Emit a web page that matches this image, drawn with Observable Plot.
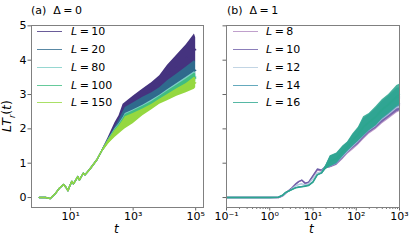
<!DOCTYPE html>
<html>
<head>
<meta charset="utf-8">
<script src="https://cdn.jsdelivr.net/npm/d3@7"></script>
<script src="https://cdn.jsdelivr.net/npm/@observablehq/plot@0.6"></script>
<style>
  body { margin: 0; background: #fff; }
  #root { position: relative; width: 415px; height: 242px; font-family: "DejaVu Sans", sans-serif; color: #000; overflow: hidden; }
  .abs { position: absolute; white-space: nowrap; }
  .sw { position: absolute; width: 25px; height: 0; border-top: 1.6px solid; opacity: 0.8; }
  .eq { margin: 0 2.5px; }
</style>
</head>
<body>
<div id="root"></div>
<script>
// ---------- Panel (a): Δ = 0 ----------
const labelsA = ["L = 10", "L = 20", "L = 80", "L = 100", "L = 150"];
const colorsA = ["#45337f", "#2f6a8d", "#7ccdc6", "#40bd82", "#95d840"];
const xTicksA = [10, 1000, 100000];
const yTicks = [0, 1, 2, 3, 4, 5];

// early-time (shared) curve, log10(t) and value
const earlyA_logT = [0, 0.2, 0.35, 0.5, 0.65, 0.775, 0.85, 0.915, 0.98, 1.04, 1.09, 1.16, 1.23, 1.28, 1.35, 1.41, 1.46, 1.62, 1.84, 2.0];
const earlyA_val  = [0, 0, -0.03, 0.1, 0.28, 0.38, 0.3, 0.2, 0.35, 0.47, 0.4, 0.5, 0.61, 0.51, 0.62, 0.71, 0.66, 0.83, 1.1, 1.37];
// late-time noisy band (lower / upper envelopes)
const bandA_logT = [2.2, 2.42, 2.55, 2.68, 2.75, 3.0, 3.31, 3.6, 3.85, 4.1, 4.4, 4.7, 4.96, 5.0];
const A10_lo  = [1.62, 1.9, 2.05, 2.3, 2.4, 2.55, 2.75, 2.95, 3.1, 3.3, 3.45, 3.7, 3.9, 3.95];
const A10_hi  = [1.74, 2.18, 2.38, 2.72, 2.77, 2.95, 3.16, 3.35, 3.55, 3.85, 4.15, 4.45, 4.76, 4.65];
const A20_lo  = [1.6, 1.85, 2.0, 2.15, 2.2, 2.38, 2.55, 2.72, 2.85, 3.0, 3.15, 3.3, 3.45, 3.45];
const A20_hi  = [1.7, 2.05, 2.25, 2.5, 2.62, 2.75, 2.92, 3.05, 3.2, 3.4, 3.6, 3.8, 3.98, 3.95];
const A80_lo  = [1.58, 1.84, 1.98, 2.14, 2.2, 2.33, 2.48, 2.64, 2.78, 2.92, 3.08, 3.24, 3.4, 3.4];
const A80_hi  = [1.69, 2.0, 2.15, 2.33, 2.45, 2.55, 2.69, 2.84, 2.98, 3.14, 3.32, 3.5, 3.66, 3.64];
const A100_lo = [1.57, 1.82, 1.96, 2.1, 2.18, 2.3, 2.45, 2.6, 2.74, 2.88, 3.05, 3.2, 3.36, 3.36];
const A100_hi = [1.68, 1.98, 2.12, 2.3, 2.42, 2.52, 2.66, 2.8, 2.95, 3.1, 3.28, 3.45, 3.62, 3.6];
const A150_lo = [1.55, 1.75, 1.85, 1.95, 2.0, 2.15, 2.38, 2.56, 2.72, 2.82, 2.95, 3.05, 3.15, 3.2];
const A150_hi = [1.66, 1.95, 2.08, 2.25, 2.35, 2.45, 2.58, 2.72, 2.86, 3.0, 3.17, 3.32, 3.5, 3.48];

// ---------- Panel (b): Δ = 1 ----------
const labelsB = ["L = 8", "L = 10", "L = 12", "L = 14", "L = 16"];
const colorsB = ["#b088bf", "#6e5ea9", "#b3cadd", "#3f95ad", "#2ca68e"];
const xTicksB = [0.1, 1, 10, 100, 1000];

const earlyB_logT = [-1, 0, 0.2, 0.3, 0.36, 0.5, 0.6, 0.67, 0.74, 0.82, 0.9, 1.0, 1.1, 1.2];
const B8_early  = [0, 0, 0, 0.05, 0.12, 0.27, 0.4, 0.47, 0.5, 0.4, 0.44, 0.62, 0.8, 0.78];
const B10_early = [0, 0, 0, 0.05, 0.12, 0.26, 0.39, 0.46, 0.51, 0.42, 0.45, 0.64, 0.83, 0.8];
const B12_early = [0, 0, 0.01, 0.06, 0.12, 0.24, 0.34, 0.38, 0.4, 0.37, 0.4, 0.55, 0.72, 0.75];
const B14_early = [0, 0, 0.01, 0.07, 0.14, 0.23, 0.29, 0.31, 0.32, 0.34, 0.36, 0.46, 0.66, 0.72];
const B16_early = [0, 0, 0.01, 0.07, 0.14, 0.22, 0.28, 0.3, 0.31, 0.33, 0.35, 0.45, 0.67, 0.72];
const bandB_logT = [1.3, 1.4, 1.55, 1.69, 1.8, 1.92, 2.05, 2.17, 2.3, 2.46, 2.6, 2.75, 2.94, 3.0];
const B8_lo  = [0.84, 0.86, 0.93, 1.1, 1.25, 1.38, 1.52, 1.68, 1.84, 1.98, 2.14, 2.28, 2.46, 2.5];
const B8_hi  = [0.9, 1.1, 1.2, 1.38, 1.5, 1.7, 1.9, 2.12, 2.28, 2.45, 2.6, 2.75, 2.9, 2.9];
const B10_lo = [0.85, 0.87, 0.95, 1.12, 1.28, 1.42, 1.55, 1.72, 1.88, 2.02, 2.18, 2.32, 2.5, 2.53];
const B10_hi = [0.92, 1.15, 1.25, 1.42, 1.55, 1.75, 1.95, 2.2, 2.35, 2.5, 2.65, 2.8, 2.95, 2.95];
const B12_lo = [0.84, 0.88, 0.97, 1.15, 1.3, 1.45, 1.6, 1.76, 1.92, 2.06, 2.24, 2.38, 2.58, 2.6];
const B12_hi = [0.93, 1.18, 1.27, 1.45, 1.58, 1.8, 2.0, 2.28, 2.4, 2.58, 2.78, 2.92, 3.12, 3.15];
const B14_lo = [0.83, 0.89, 0.98, 1.18, 1.33, 1.48, 1.63, 1.78, 1.94, 2.08, 2.27, 2.42, 2.62, 2.66];
const B14_hi = [0.94, 1.2, 1.28, 1.48, 1.6, 1.82, 2.02, 2.3, 2.42, 2.6, 2.8, 2.96, 3.18, 3.2];
const B16_lo = [0.82, 0.9, 1.0, 1.2, 1.35, 1.5, 1.65, 1.8, 1.95, 2.1, 2.3, 2.45, 2.65, 2.7];
const B16_hi = [0.95, 1.22, 1.3, 1.5, 1.62, 1.85, 2.05, 2.35, 2.45, 2.65, 2.85, 3.0, 3.26, 3.3];

// ---------- build rows ----------
function rows(eT, eV, bT, lo, hi) {
  const r = eT.map((lt, i) => ({t: 10 ** lt, lo: eV[i], hi: eV[i], mid: eV[i]}));
  bT.forEach((lt, i) => r.push({t: 10 ** lt, lo: lo[i], hi: hi[i], mid: (lo[i] + hi[i]) / 2}));
  return r;
}
const seriesA = [
  rows(earlyA_logT, earlyA_val, bandA_logT, A10_lo, A10_hi),
  rows(earlyA_logT, earlyA_val, bandA_logT, A20_lo, A20_hi),
  rows(earlyA_logT, earlyA_val, bandA_logT, A80_lo, A80_hi),
  rows(earlyA_logT, earlyA_val, bandA_logT, A100_lo, A100_hi),
  rows(earlyA_logT, earlyA_val, bandA_logT, A150_lo, A150_hi)
];
const seriesB = [
  rows(earlyB_logT, B8_early, bandB_logT, B8_lo, B8_hi),
  rows(earlyB_logT, B10_early, bandB_logT, B10_lo, B10_hi),
  rows(earlyB_logT, B12_early, bandB_logT, B12_lo, B12_hi),
  rows(earlyB_logT, B14_early, bandB_logT, B14_lo, B14_hi),
  rows(earlyB_logT, B16_early, bandB_logT, B16_lo, B16_hi)
];

const supMap = {"-": "⁻", "0": "⁰", "1": "¹", "2": "²", "3": "³", "4": "⁴", "5": "⁵"};
const powFmt = d => "10" + String(Math.round(Math.log10(d))).split("").map(c => supMap[c]).join("");

const style = {fontFamily: "DejaVu Sans, sans-serif", fontSize: "11px", color: "#000", background: "transparent", overflow: "visible"};
const yDomain = [-0.29, 5.01];

function seriesMarks(series, colors, op) {
  const m = [];
  series.forEach((d, i) => {
    m.push(Plot.areaY(d, {x: "t", y1: "lo", y2: "hi", fill: colors[i], fillOpacity: op, curve: "linear"}));
    m.push(Plot.lineY(d, {x: "t", y: "mid", stroke: colors[i], strokeWidth: 1.4}));
  });
  return m;
}

const plotA = Plot.plot({
  width: 210, height: 242,
  marginLeft: 31, marginRight: 7, marginTop: 25, marginBottom: 35,
  style,
  x: {type: "log", domain: [10 ** -0.25, 10 ** 5.25]},
  y: {domain: yDomain},
  marks: [
    ...seriesMarks(seriesA, colorsA, 1),
    Plot.axisX({ticks: xTicksA, tickFormat: powFmt, tickSize: 3.5, tickPadding: 1, stroke: "#666", label: null}),
    Plot.axisY({ticks: yTicks, tickFormat: d => String(d), tickSize: 3.5, tickPadding: 1.5, stroke: "#666", label: null}),
    Plot.frame({stroke: "#808080"})
  ]
});

const minorB = d3.scaleLog().domain([0.1, 1000]).ticks().filter(v => Math.abs(Math.log10(v) - Math.round(Math.log10(v))) > 1e-9);
const plotB = Plot.plot({
  width: 210, height: 242,
  marginLeft: 21, marginRight: 16, marginTop: 25, marginBottom: 35,
  style,
  x: {type: "log", domain: [0.1, 1000]},
  y: {domain: yDomain},
  marks: [
    ...seriesMarks(seriesB, colorsB, 0.88),
    Plot.axisX({ticks: minorB, tickFormat: () => "", tickSize: 2, stroke: "#777", label: null}),
    Plot.axisX({ticks: xTicksB, tickFormat: powFmt, tickSize: 3.5, tickPadding: 1, stroke: "#666", label: null}),
    Plot.axisY({ticks: yTicks, tickFormat: () => "", tickSize: 3.5, stroke: "#666", label: null}),
    Plot.frame({stroke: "#808080"})
  ]
});

const root = document.getElementById("root");
function place(el, left, top) { el.style.position = "absolute"; el.style.left = left + "px"; el.style.top = top + "px"; root.appendChild(el); }
place(plotA, 0, 0);
place(plotB, 205, 0);

function html(h, left, top, extra) {
  const d = document.createElement("div");
  d.className = "abs";
  d.innerHTML = h;
  d.style.left = left + "px"; d.style.top = top + "px";
  if (extra) Object.assign(d.style, extra);
  root.appendChild(d);
  return d;
}
// titles
html("(a)&nbsp;&nbsp;Δ<span class='eq'>=</span>0", 31, 4, {fontSize: "11px", lineHeight: "13px"});
html("(b)&nbsp;&nbsp;Δ<span class='eq'>=</span>1", 227, 4, {fontSize: "11px", lineHeight: "13px"});
// axis labels
html("<i>t</i>", 114, 223, {fontSize: "12px", lineHeight: "12px"});
html("<i>t</i>", 309, 223, {fontSize: "12px", lineHeight: "12px"});
html("<i>LT</i><sub style='font-size:8px'><i>r</i></sub>(<i>t</i>)", 10, 116, {fontSize: "12.5px", lineHeight: "14px", transform: "translate(-50%,-50%) rotate(-90deg)"});

// legends
const rowY = [32, 50, 68, 85.5, 103];
function legend(labels, colors, swLeft, txLeft) {
  labels.forEach((lab, i) => {
    const sw = document.createElement("div");
    sw.className = "sw";
    sw.style.left = swLeft + "px"; sw.style.top = (rowY[i] - 0.8) + "px";
    sw.style.borderTopColor = colors[i];
    root.appendChild(sw);
    const parts = lab.split(" = ");
    html("<i>" + parts[0] + "</i><span class='eq'>=</span>" + parts[1], txLeft, rowY[i] - 7, {fontSize: "11px", lineHeight: "13px"});
  });
}
legend(labelsA, colorsA, 37, 71);
legend(labelsB, colorsB, 233, 266);
</script>
</body>
</html>
